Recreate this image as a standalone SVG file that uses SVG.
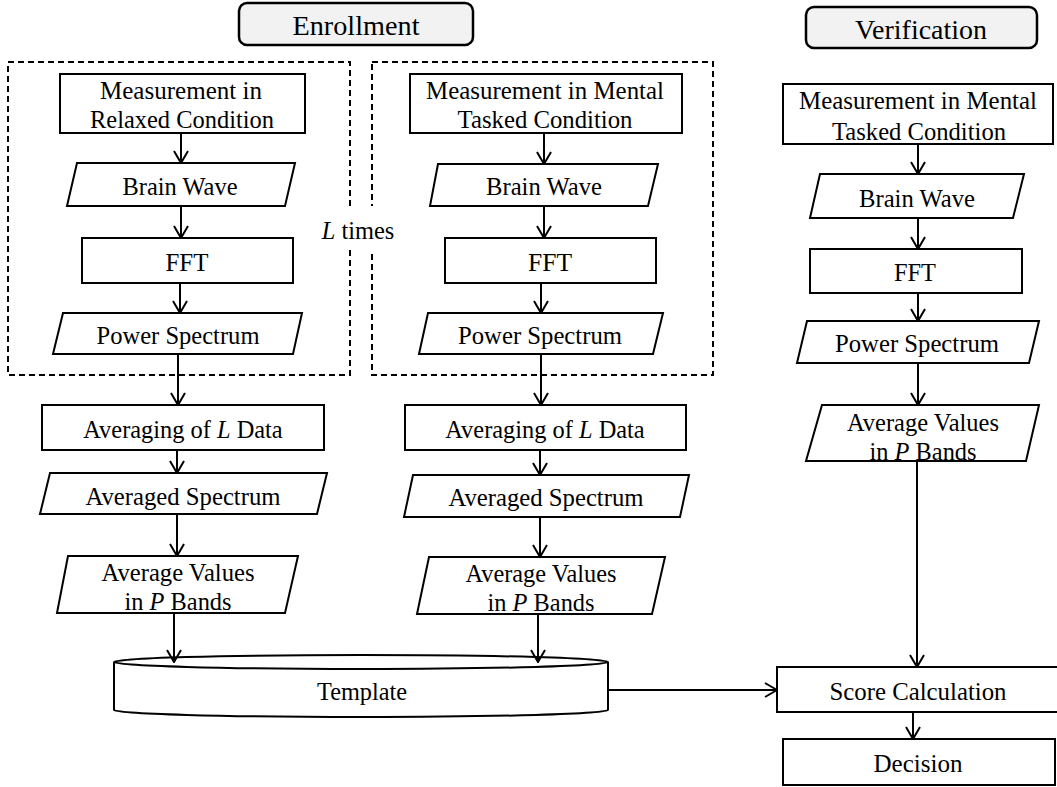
<svg xmlns="http://www.w3.org/2000/svg" width="1057" height="787" viewBox="0 0 1057 787">
<style>
.n{fill:#fff;stroke:#000;stroke-width:2}
.h{fill:#f2f2f2;stroke:#000;stroke-width:2.5}
.d{fill:none;stroke:#000;stroke-width:2;stroke-dasharray:6 4}
.t{font-family:"Liberation Serif","Times New Roman",serif;font-size:25px;fill:#000;text-anchor:middle;dominant-baseline:central}
.s{font-size:24.4px}
.ht{font-size:28px}
.c{stroke:#000;stroke-width:2;fill:none}
.a{marker-end:url(#ar)}
</style>
<defs>
<marker id="ar" markerUnits="userSpaceOnUse" viewBox="0 0 14 16" markerWidth="14" markerHeight="16" refX="13" refY="8" orient="auto">
<path d="M1,1 L13,8 L1,15" fill="none" stroke="#000" stroke-width="2"/>
</marker>
</defs>
<rect width="1057" height="787" fill="#fff"/>

<g id="hdr-enroll"><rect class="h" x="239" y="3" width="234" height="42" rx="8"/><text class="t ht" x="356" y="25" textLength="127" lengthAdjust="spacingAndGlyphs">Enrollment</text></g>
<g id="hdr-verif"><rect class="h" x="806" y="7" width="231" height="41" rx="8"/><text class="t ht" x="921" y="29" textLength="132" lengthAdjust="spacingAndGlyphs">Verification</text></g>

<g id="loop1"><rect class="d" x="8" y="62" width="342" height="313"/></g>
<g id="loop2"><rect class="d" x="372" y="62" width="341" height="313"/></g>
<g id="ltimes"><rect x="340" y="206" width="40" height="44" fill="#fff"/><text class="t s" x="358" y="230"><tspan font-style="italic">L</tspan> times</text></g>

<!-- left column -->
<g id="l-meas"><rect class="n" x="60" y="74" width="245" height="59"/><text class="t" x="181" y="90" textLength="162" lengthAdjust="spacingAndGlyphs">Measurement in</text><text class="t" x="182" y="119" textLength="184" lengthAdjust="spacingAndGlyphs">Relaxed Condition</text></g>
<g id="l-brain"><polygon class="n" points="77,163 295,163 285,206 67,206"/><text class="t" x="180" y="186" textLength="115" lengthAdjust="spacingAndGlyphs">Brain Wave</text></g>
<g id="l-fft"><rect class="n" x="82" y="238" width="211" height="45"/><text class="t" x="187" y="262" textLength="43" lengthAdjust="spacingAndGlyphs">FFT</text></g>
<g id="l-power"><polygon class="n" points="63,313 302,313 293,354 53,354"/><text class="t" x="178" y="335" textLength="163" lengthAdjust="spacingAndGlyphs">Power Spectrum</text></g>
<g id="l-avg"><rect class="n" x="42" y="405" width="282" height="45"/><text class="t s" x="183" y="429">Averaging of <tspan font-style="italic">L</tspan> Data</text></g>
<g id="l-avgspec"><polygon class="n" points="50,473 327,473 317,514 40,514"/><text class="t" x="183" y="496" textLength="195" lengthAdjust="spacingAndGlyphs">Averaged Spectrum</text></g>
<g id="l-bands"><polygon class="n" points="68,556 298,556 285,613 57,613"/><text class="t" x="178" y="572" textLength="153" lengthAdjust="spacingAndGlyphs">Average Values</text><text class="t s" x="178" y="601">in <tspan font-style="italic">P</tspan> Bands</text></g>

<!-- middle column -->
<g id="m-meas"><rect class="n" x="410" y="74" width="272" height="59"/><text class="t" x="545" y="90" textLength="238" lengthAdjust="spacingAndGlyphs">Measurement in Mental</text><text class="t" x="545" y="119" textLength="175" lengthAdjust="spacingAndGlyphs">Tasked Condition</text></g>
<g id="m-brain"><polygon class="n" points="438,164 658,164 648,206 430,206"/><text class="t" x="544" y="186" textLength="116" lengthAdjust="spacingAndGlyphs">Brain Wave</text></g>
<g id="m-fft"><rect class="n" x="445" y="238" width="211" height="45"/><text class="t" x="550" y="262" textLength="44" lengthAdjust="spacingAndGlyphs">FFT</text></g>
<g id="m-power"><polygon class="n" points="428,313 663,313 653,354 419,354"/><text class="t" x="540" y="335" textLength="164" lengthAdjust="spacingAndGlyphs">Power Spectrum</text></g>
<g id="m-avg"><rect class="n" x="405" y="405" width="281" height="45"/><text class="t s" x="545" y="429">Averaging of <tspan font-style="italic">L</tspan> Data</text></g>
<g id="m-avgspec"><polygon class="n" points="413,475 689,475 680,517 404,517"/><text class="t" x="546" y="497" textLength="195" lengthAdjust="spacingAndGlyphs">Averaged Spectrum</text></g>
<g id="m-bands"><polygon class="n" points="429,557 665,557 652,614 417,614"/><text class="t" x="541" y="573" textLength="151" lengthAdjust="spacingAndGlyphs">Average Values</text><text class="t s" x="541" y="602">in <tspan font-style="italic">P</tspan> Bands</text></g>

<!-- right column -->
<g id="r-meas"><rect class="n" x="783" y="84" width="270" height="60"/><text class="t" x="918" y="100" textLength="238" lengthAdjust="spacingAndGlyphs">Measurement in Mental</text><text class="t" x="919" y="131" textLength="174" lengthAdjust="spacingAndGlyphs">Tasked Condition</text></g>
<g id="r-brain"><polygon class="n" points="820,174 1024,174 1013,218 810,218"/><text class="t" x="917" y="198" textLength="116" lengthAdjust="spacingAndGlyphs">Brain Wave</text></g>
<g id="r-fft"><rect class="n" x="810" y="249" width="212" height="44"/><text class="t" x="915" y="272" textLength="42" lengthAdjust="spacingAndGlyphs">FFT</text></g>
<g id="r-power"><polygon class="n" points="807,321 1039,321 1029,363 797,363"/><text class="t" x="917" y="343" textLength="164" lengthAdjust="spacingAndGlyphs">Power Spectrum</text></g>
<g id="r-bands"><polygon class="n" points="822,405 1039,405 1026,461 806,461"/><text class="t" x="923" y="422" textLength="152" lengthAdjust="spacingAndGlyphs">Average Values</text><text class="t s" x="923" y="451">in <tspan font-style="italic">P</tspan> Bands</text></g>
<g id="r-score"><rect class="n" x="777" y="667" width="285" height="45"/><text class="t" x="918" y="691" textLength="177" lengthAdjust="spacingAndGlyphs">Score Calculation</text></g>
<g id="r-decision"><rect class="n" x="783" y="739" width="272" height="46"/><text class="t" x="918" y="763" textLength="89" lengthAdjust="spacingAndGlyphs">Decision</text></g>

<g id="template"><path class="n" d="M114,662 L114,710 A247,7 0 0 0 608,710 L608,662"/><ellipse class="n" cx="361" cy="662" rx="247" ry="7"/><text class="t" x="362" y="691" textLength="90" lengthAdjust="spacingAndGlyphs">Template</text></g>

<g id="connectors" class="c">
<line class="a" x1="181" y1="133" x2="181" y2="163"/>
<line class="a" x1="181" y1="206" x2="181" y2="238"/>
<line class="a" x1="180" y1="283" x2="180" y2="313"/>
<line class="a" x1="178" y1="354" x2="178" y2="405"/>
<line class="a" x1="177" y1="450" x2="177" y2="473"/>
<line class="a" x1="177" y1="514" x2="177" y2="556"/>
<line class="a" x1="174" y1="613" x2="174" y2="662"/>
<line class="a" x1="544" y1="133" x2="544" y2="164"/>
<line class="a" x1="544" y1="206" x2="544" y2="238"/>
<line class="a" x1="541" y1="283" x2="541" y2="313"/>
<line class="a" x1="541" y1="354" x2="541" y2="405"/>
<line class="a" x1="540" y1="450" x2="540" y2="475"/>
<line class="a" x1="540" y1="517" x2="540" y2="557"/>
<line class="a" x1="538" y1="614" x2="538" y2="662"/>
<line class="a" x1="918" y1="144" x2="918" y2="174"/>
<line class="a" x1="918" y1="218" x2="918" y2="249"/>
<line class="a" x1="918" y1="293" x2="918" y2="321"/>
<line class="a" x1="918" y1="363" x2="918" y2="405"/>
<line class="a" x1="917" y1="461" x2="917" y2="667"/>
<line class="a" x1="913" y1="712" x2="913" y2="739"/>
<line class="a" x1="608" y1="690" x2="777" y2="690"/>
</g>
</svg>
